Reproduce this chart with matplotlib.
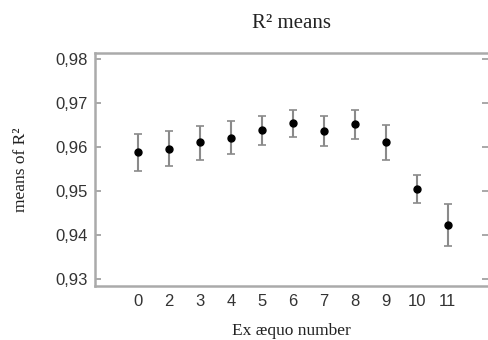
import matplotlib
matplotlib.use("Agg")
import matplotlib.pyplot as plt
import numpy as np

categories = ["0", "2", "3", "4", "5", "6", "7", "8", "9", "10", "11"]
means = [0.9589, 0.9596, 0.9611, 0.9621, 0.9638, 0.9654, 0.9636, 0.9652, 0.9611, 0.9505, 0.9423]
upper = [0.9630, 0.9637, 0.9648, 0.9658, 0.9670, 0.9683, 0.9671, 0.9683, 0.9649, 0.9536, 0.9470]
lower = [0.9546, 0.9556, 0.9571, 0.9584, 0.9605, 0.9622, 0.9602, 0.9618, 0.9571, 0.9473, 0.9374]
yticks = [0.93, 0.94, 0.95, 0.96, 0.97, 0.98]

fig = plt.figure(figsize=(4.88, 3.4), dpi=100)
ax = fig.add_axes([0.1947, 0.1588, 0.8053, 0.6853])

x = np.arange(len(categories))
m = np.array(means)
yerr = [m - np.array(lower), np.array(upper) - m]
ax.errorbar(x, m, yerr=yerr, fmt='o', color='black', ecolor='#8a8a8a',
            elinewidth=1.5, capsize=3, capthick=1.2, markersize=5)

ax.set_xlim(-1.38, 11.30)
ax.set_ylim(0.9284, 0.98136)
ax.set_xticks(x)
ax.set_xticklabels(categories, family="Liberation Sans", fontsize=12, color="#333333")
ax.set_yticks(yticks)
ax.set_yticklabels([f"{v:.2f}".replace('.', ',') for v in yticks],
                   family="Liberation Sans", fontsize=12, color="#333333")
ax.tick_params(axis='x', length=0, pad=6)
ax.tick_params(axis='y', direction='in', length=4, width=1.2, color='#999999', right=True, pad=5)
for s in ax.spines.values():
    s.set_color('#aaaaaa')
    s.set_linewidth(1.8)
ax.spines['right'].set_visible(False)

ax.set_title("R² means", family="Liberation Serif", fontsize=15, pad=18, color="#222222")
ax.set_xlabel("Ex æquo number", family="Liberation Serif", fontsize=12.5, labelpad=10, color="#222222")
ax.set_ylabel("means of R²", family="Liberation Serif", fontsize=12.5, labelpad=19, color="#222222")

fig.savefig("out.png", dpi=100)
